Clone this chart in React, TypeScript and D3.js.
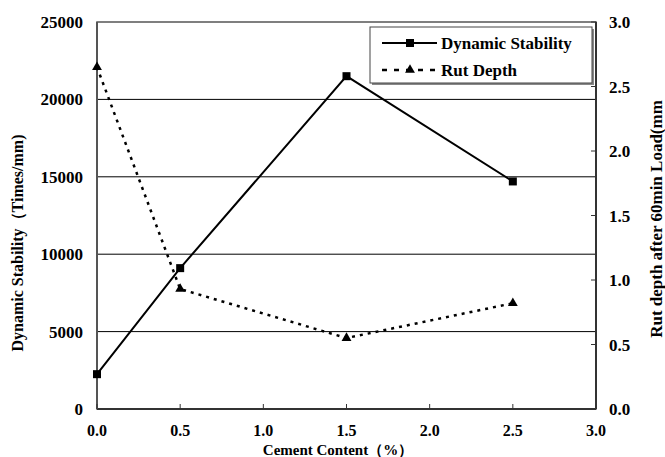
import React from "react";
import * as d3 from "d3";

const cementContent = [0, 0.5, 1.5, 2.5];
const dynamicStability = [2250, 9100, 21500, 14700];
const rutDepth = [2.65, 0.93, 0.55, 0.82];
const xTicks = [0, 0.5, 1, 1.5, 2, 2.5, 3];
const leftTicks = [0, 5000, 10000, 15000, 20000, 25000];
const rightTicks = [0, 0.5, 1, 1.5, 2, 2.5, 3];
const seriesNames = ["Dynamic Stability", "Rut Depth"];

const W = 665, H = 457;
const L = 97, R = 596, T = 22, B = 409;
const font = "'Liberation Serif', 'Times New Roman', serif";

export default function App() {
  const x = d3.scaleLinear().domain([0, 3]).range([L, R]);
  const yL = d3.scaleLinear().domain([0, 25000]).range([B, T]);
  const yR = d3.scaleLinear().domain([0, 3]).range([B, T]);
  const dsLine = d3.line<number>().x((_, i) => x(cementContent[i])).y((d) => yL(d))(dynamicStability) || "";
  const rdLine = d3.line<number>().x((_, i) => x(cementContent[i])).y((d) => yR(d))(rutDepth) || "";
  const tri = d3.symbol().type(d3.symbolTriangle).size(42)() || "";
  return (
    <svg width={W} height={H} style={{ position: "absolute", left: 0, top: 0, background: "#fff", fontFamily: font, fontWeight: 700 }}>
      {/* gridlines */}
      {leftTicks.slice(1, -1).map((t) => (
        <line key={t} x1={L} x2={R} y1={yL(t)} y2={yL(t)} stroke="#000" strokeWidth={1} />
      ))}
      {/* frame */}
      <rect x={L} y={T} width={R - L} height={B - T} fill="none" stroke="#555" strokeWidth={1.5} />
      <line x1={L} x2={R} y1={B} y2={B} stroke="#333" strokeWidth={2} />
      <line x1={L} x2={L} y1={T} y2={B} stroke="#555" strokeWidth={2} />
      <line x1={R} x2={R} y1={T} y2={B} stroke="#333" strokeWidth={2} />
      {/* x ticks */}
      {xTicks.map((t) => (
        <g key={t}>
          <line x1={x(t)} x2={x(t)} y1={B} y2={B - 5} stroke="#333" strokeWidth={1} />
          <text x={x(t)} y={436} fontSize={16} textAnchor="middle">{t.toFixed(1)}</text>
        </g>
      ))}
      {/* left ticks */}
      {leftTicks.map((t) => (
        <text key={t} x={83} y={yL(t) + 6} fontSize={17} textAnchor="end">{t}</text>
      ))}
      {/* right ticks */}
      {rightTicks.map((t) => (
        <g key={t}>
          <line x1={R - 5} x2={R} y1={yR(t)} y2={yR(t)} stroke="#333" strokeWidth={1} />
          <text x={609} y={yR(t) + 6} fontSize={17} textAnchor="start">{t.toFixed(1)}</text>
        </g>
      ))}
      {/* titles */}
      <text x={338} y={455} fontSize={15} textAnchor="middle">Cement Content（%）</text>
      <text transform={`translate(23,${243}) rotate(-90)`} fontSize={16} textAnchor="middle">Dynamic Stability（Times/mm)</text>
      <text transform={`translate(662,${219}) rotate(-90)`} fontSize={17} textAnchor="middle">Rut depth after 60min Load(mm</text>
      {/* series */}
      <path d={dsLine} fill="none" stroke="#000" strokeWidth={2} />
      <path d={rdLine} fill="none" stroke="#000" strokeWidth={2.5} strokeDasharray="3,5" />
      {dynamicStability.map((d, i) => (
        <rect key={i} x={x(cementContent[i]) - 4} y={yL(d) - 4} width={8} height={8} fill="#000" />
      ))}
      {rutDepth.map((d, i) => (
        <path key={i} d={tri} transform={`translate(${x(cementContent[i])},${yR(d)})`} fill="#000" />
      ))}
      {/* legend */}
      <rect x={372} y={29} width={222} height={56} fill="#888" />
      <rect x={370} y={27} width={222} height={56} fill="#fff" stroke="#444" strokeWidth={1} />
      <line x1={382} x2={437} y1={43} y2={43} stroke="#000" strokeWidth={2} />
      <rect x={406} y={39} width={8} height={8} fill="#000" />
      <text x={441} y={49} fontSize={17}>{seriesNames[0]}</text>
      <line x1={382} x2={437} y1={70} y2={70} stroke="#000" strokeWidth={2.5} strokeDasharray="5,7" />
      <path d={tri} transform="translate(410,70)" fill="#000" />
      <text x={441} y={76} fontSize={17}>{seriesNames[1]}</text>
    </svg>
  );
}
